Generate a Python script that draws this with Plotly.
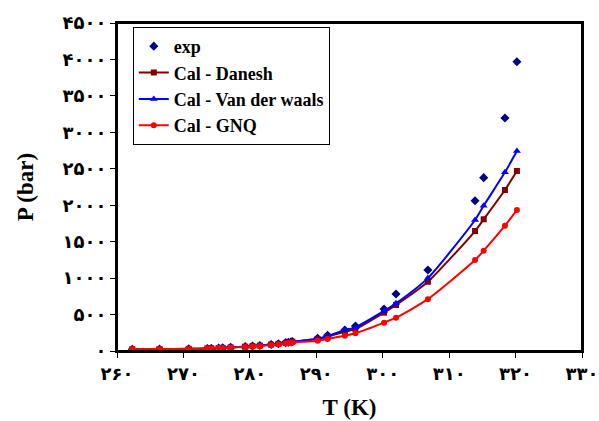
import plotly.graph_objects as go

T = [262.3, 266.4, 270.8, 273.6, 274.2, 275.3, 275.9, 277.1, 279.3, 280.4, 281.5, 283.2,
     284.3, 285.4, 285.8, 286.2, 286.4, 290.2, 291.7, 294.3, 295.9, 300.2, 302.0, 306.8,
     313.9, 315.2, 318.4, 320.2]

P_exp = [25, 28, 30, 35, 37, 42, 45, 50, 60, 68, 75, 90, 100, 115, 120, 125, 130,
         174, 215, 288, 343, 576, 782, 1111, 2062, 2378, 3197, 3969]
P_danesh = [24, 27, 30, 34, 36, 41, 44, 49, 59, 66, 74, 88, 98, 112, 117, 122, 127,
            165, 196, 265, 302, 526, 631, 950, 1646, 1807, 2209, 2470]
P_vdw = [24, 27, 30, 34, 36, 41, 44, 49, 59, 66, 74, 88, 99, 113, 118, 123, 128,
         169, 206, 288, 325, 549, 654, 1000, 1797, 1994, 2452, 2744]
P_gnq = [24, 27, 29, 33, 35, 40, 42, 47, 56, 63, 70, 83, 92, 104, 108, 112, 116,
         141, 165, 210, 243, 389, 457, 711, 1248, 1376, 1720, 1934]

x_ticks = [260, 270, 280, 290, 300, 310, 320, 330]
x_ticktext = ["۲۶۰", "۲۷۰", "۲۸۰", "۲۹۰", "۳۰۰", "۳۱۰", "۳۲۰", "۳۳۰"]
y_ticks = [0, 500, 1000, 1500, 2000, 2500, 3000, 3500, 4000, 4500]
y_ticktext = ["۰", "۵۰۰", "۱۰۰۰", "۱۵۰۰", "۲۰۰۰", "۲۵۰۰", "۳۰۰۰", "۳۵۰۰", "۴۰۰۰", "۴۵۰۰"]

fig = go.Figure()
fig.add_trace(go.Scatter(x=T, y=P_exp, mode="markers", name="exp",
                         marker=dict(symbol="diamond", size=7, color="#000080")))
fig.add_trace(go.Scatter(x=T, y=P_danesh, mode="lines+markers", name="Cal - Danesh",
                         line=dict(color="#800000", width=2, shape="spline", smoothing=0.6),
                         marker=dict(symbol="square", size=6, color="#800000")))
fig.add_trace(go.Scatter(x=T, y=P_vdw, mode="lines+markers", name="Cal - Van der waals",
                         line=dict(color="#0000FF", width=2, shape="spline", smoothing=0.6),
                         marker=dict(symbol="triangle-up", size=7, color="#0000FF")))
fig.add_trace(go.Scatter(x=T, y=P_gnq, mode="lines+markers", name="Cal - GNQ",
                         line=dict(color="#FF0000", width=2, shape="spline", smoothing=0.6),
                         marker=dict(symbol="circle", size=6, color="#FF0000")))

serif = "Liberation Serif, Times New Roman, serif"
fig.update_layout(
    width=599, height=421,
    margin=dict(l=117, r=17, t=23, b=70),
    paper_bgcolor="white", plot_bgcolor="white",
    font=dict(family=serif, color="black"),
    showlegend=True,
    legend=dict(x=0.034, y=0.988, xanchor="left", yanchor="top",
                bgcolor="white", bordercolor="black", borderwidth=1,
                itemwidth=30,
                font=dict(family=serif, size=18, color="black", weight="bold")),
    xaxis=dict(range=[260, 330], tickvals=x_ticks, ticktext=x_ticktext, automargin=False,
               ticklabeloverflow="allow",
               showgrid=False, zeroline=False, showline=True, linecolor="black",
               linewidth=2, mirror=True, ticks="outside", ticklen=5, tickcolor="black",
               tickfont=dict(family="DejaVu Sans", size=18, color="black", weight="bold"),
               title=dict(text="<b>T (K)</b>", font=dict(family=serif, size=23), standoff=16)),
    yaxis=dict(range=[0, 4500], tickvals=y_ticks, ticktext=y_ticktext, automargin=False,
               ticklabeloverflow="allow",
               showgrid=False, zeroline=False, showline=True, linecolor="black",
               linewidth=2, mirror=True, ticks="outside", ticklen=5, tickcolor="black",
               tickfont=dict(family="DejaVu Sans", size=18, color="black", weight="bold"),
               title=dict(text="<b>P (bar)</b>", font=dict(family=serif, size=23), standoff=22)),
    shapes=[dict(type="rect", xref="paper", yref="paper", x0=0, x1=1, y0=0, y1=1,
                 line=dict(color="black", width=2), layer="above"),
            dict(type="line", xref="paper", yref="paper", x0=1, x1=1, y0=0, y1=1,
                 line=dict(color="black", width=2), layer="above")],
)

fig.write_html(
    "out.html",
    config={"displayModeBar": False},
    post_script="document.body.style.margin='0';document.documentElement.style.overflow='hidden';document.body.style.overflow='hidden';",
)
